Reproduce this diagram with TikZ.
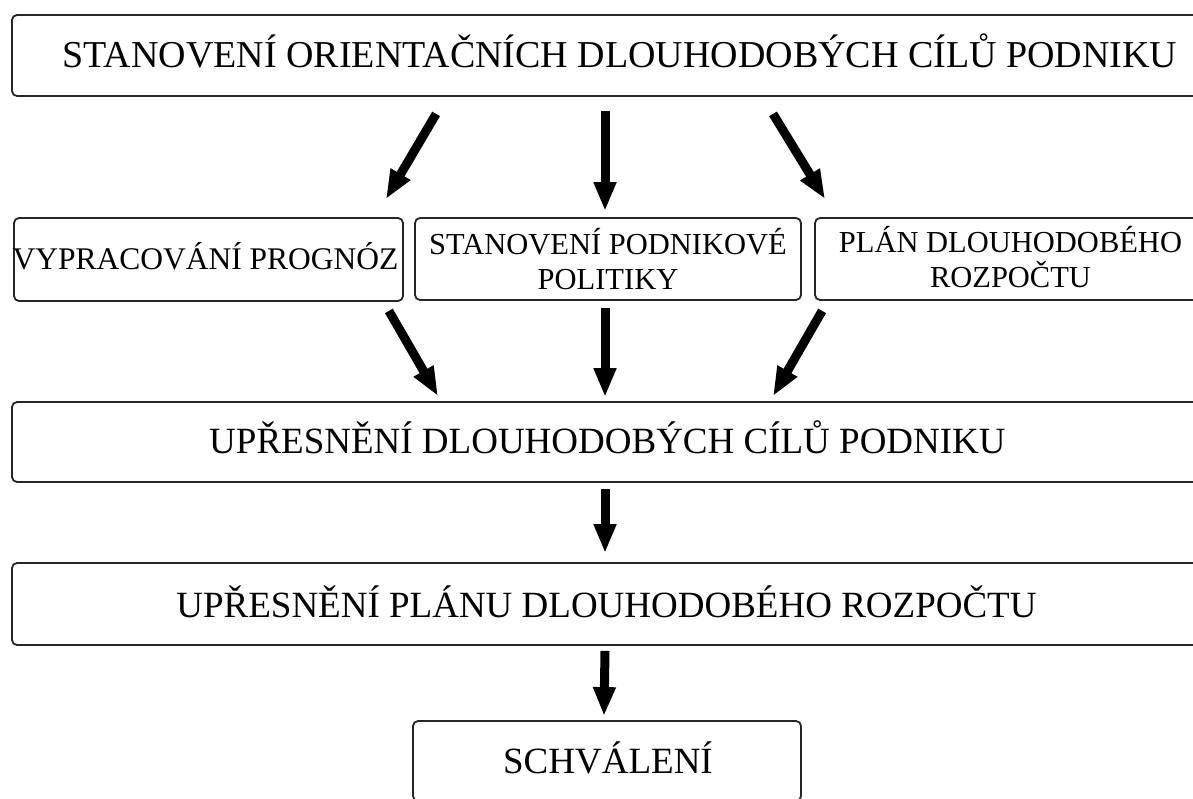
\documentclass[tikz,border=0pt]{standalone}
\usepackage{fontspec}
\setmainfont{Liberation Serif}
\usetikzlibrary{arrows.meta,calc}
\tikzset{
  box/.style={draw=black!85, line width=1.8pt, rounded corners=5pt, fill=white, inner sep=0pt},
  big/.style={font=\fontsize{37}{40}\selectfont, inner sep=0pt, anchor=base},
  small/.style={font=\fontsize{30.5}{35}\selectfont, inner sep=0pt, anchor=base},
  arr/.style={line width=9pt, black, -{Triangle[width=21pt,length=29pt]}}
}
\begin{document}
\begin{tikzpicture}[x=1pt,y=-1pt]
\useasboundingbox (0,0) rectangle (1193,799);
\clip (0,0) rectangle (1193,799);
\fill[white] (0,0) rectangle (1193,799);
% boxes
\node[box, minimum width=1216pt, minimum height=81pt] (top) at (620,55.5) {};
\node[box, minimum width=389pt, minimum height=83pt] (left) at (208.5,259.5) {};
\node[box, minimum width=386pt, minimum height=82pt] (mid) at (608,259) {};
\node[box, minimum width=391pt, minimum height=82pt] (right) at (1010.5,259) {};
\node[box, minimum width=1190pt, minimum height=80pt] (row3) at (607,442) {};
\node[box, minimum width=1189pt, minimum height=82pt] (row4) at (606.5,604) {};
\node[box, minimum width=388pt, minimum height=80pt] (bot) at (607,761) {};
% texts
\node[big, font=\fontsize{38}{40}\selectfont] (ttop) at (620,67.5) {STANOVENÍ ORIENTAČNÍCH DLOUHODOBÝCH CÍLŮ PODNIKU};
\node[small, font=\fontsize{31.5}{35}\selectfont] (tleft) at (205.5,270) {VYPRACOVÁNÍ PROGNÓZ};
\node[small] (tmid1) at (608,255) {STANOVENÍ PODNIKOVÉ};
\node[small] (tmid2) at (608,290) {POLITIKY};
\node[small] (tright1) at (1010.5,253) {PLÁN DLOUHODOBÉHO};
\node[small] (tright2) at (1010.5,288) {ROZPOČTU};
\node[big] (trow3) at (607.5,453) {UPŘESNĚNÍ DLOUHODOBÝCH CÍLŮ PODNIKU};
\node[big] (trow4) at (606.5,617) {UPŘESNĚNÍ PLÁNU DLOUHODOBÉHO ROZPOČTU};
\node[big] (tbot) at (608,773) {SCHVÁLENÍ};
% arrows
\draw[arr] ($(top.south west)+(425,17)$) -- ($(left.north east)+(-18,-18)$);
\draw[arr] ($(top.south)+(-15,14)$) -- ($(mid.north)+(-3,-6)$);
\draw[arr] ($(top.south)+(153,17)$) -- ($(right.north west)+(11,-18)$);
\draw[arr] ($(left.south east)+(-15,9)$) -- ($(row3.north)+(-169,-5)$);
\draw[arr] ($(mid.south)+(-3,7)$) -- ($(row3.north)+(-2,-4)$);
\draw[arr] ($(right.south west)+(8,10)$) -- ($(row3.north)+(166,-5)$);
\draw[arr] ($(row3.south)+(-2,6)$) -- ($(row4.north)+(-1.5,-9)$);
\draw[arr] ($(row4.south)+(-1.5,5)$) -- ($(bot.north)+(-3,-4)$);
\end{tikzpicture}
\end{document}
